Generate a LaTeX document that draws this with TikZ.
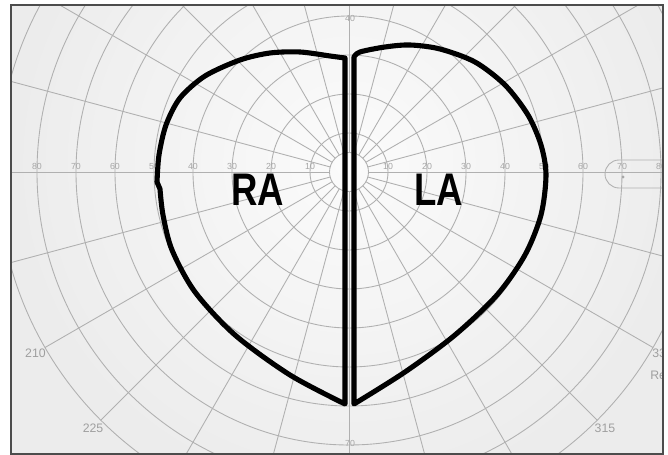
\documentclass[tikz,border=0pt]{standalone}
\usepackage{fontspec}
\setmainfont{Liberation Sans}
\usepackage{graphicx}
\begin{document}
\begin{tikzpicture}[
  x=0.02cm, y=0.02cm,
  grid/.style={draw=gray!62, line width=0.5pt},
  deg/.style={text=gray!70, font=\fontsize{5}{6}\selectfont, inner sep=0pt},
  meridian/.style={text=gray!75, font=\fontsize{7}{8}\selectfont, inner sep=0pt},
  outline/.style={draw=black, line width=2.9pt, line join=round, line cap=round},
  chamber/.style={font=\fontsize{26}{28}\selectfont\bfseries, inner sep=0pt}
]
\useasboundingbox (-349,-283) rectangle (319,172);
\fill[white] (-349,-283) rectangle (319,172);
\begin{scope}
  \clip (-338,-282) rectangle (314,167);
  \fill[gray!15] (-338,-282) rectangle (314,167);
  \shade[inner color=gray!3, outer color=gray!15] (0,10) circle (340);
  % rings and meridians
  \foreach \r in {5,10,20,30,40,50,60,70,80,90}
    \draw[grid] (0,0) circle ({3.9*\r});
  \foreach \a in {0,15,...,345}
    \draw[grid] (\a:19.5) -- (\a:351);
  % blind spot
  \draw[grid] (340,12) -- (270,12) arc (90:270:14) -- (340,-16);
  \fill[gray!70] (274,-5) circle (1.6);
  % degree labels
  \foreach \k in {1,...,8} {
    \node[deg] (degl\k) at ({-3.9*\k*10},6) {\k0};
    \node[deg] (degr\k) at ({3.9*\k*10},6) {\k0};
  }
  \node[deg] (degtop) at (1,154) {40};
  \node[deg] (degbot) at (1,-271) {70};
  \foreach \a in {210,225,315,330}
    \node[meridian] (mer\a) at (\a:362) {\a};
  \node[meridian, anchor=west] (eye) at (301,-203) {Re};
\end{scope}
\draw[gray!60!black, line width=1.2pt] (-338,-282) rectangle (314,167);

% right atrium
\draw[outline] (-4,-232) -- (-4,114) -- plot[smooth] coordinates {(-4,114) (-19,116) (-49,120) (-79,119) (-109,112) (-144,96) (-169,74) (-183,47) (-190,17) (-192,-10)}
  -- plot[smooth] coordinates {(-189,-17) (-186,-43) (-177,-78) (-154,-120) (-114,-163) (-59,-203) (-4,-232)} -- cycle;
% left atrium
\draw[outline] (5,-232) -- (5,115) -- plot[smooth] coordinates {(5,115) (11,120) (36,125) (61,127) (91,123) (126,110) (156,87) (179,57) (192,27) (197,-3) (192,-43) (176,-83) (148,-123) (106,-163) (56,-200) (5,-232)} -- cycle;

\node[chamber] (ra) at (-91,-18) {\scalebox{0.8}[1]{RA}};
\node[chamber] (la) at (90,-18) {\scalebox{0.8}[1]{LA}};
\end{tikzpicture}
\end{document}
